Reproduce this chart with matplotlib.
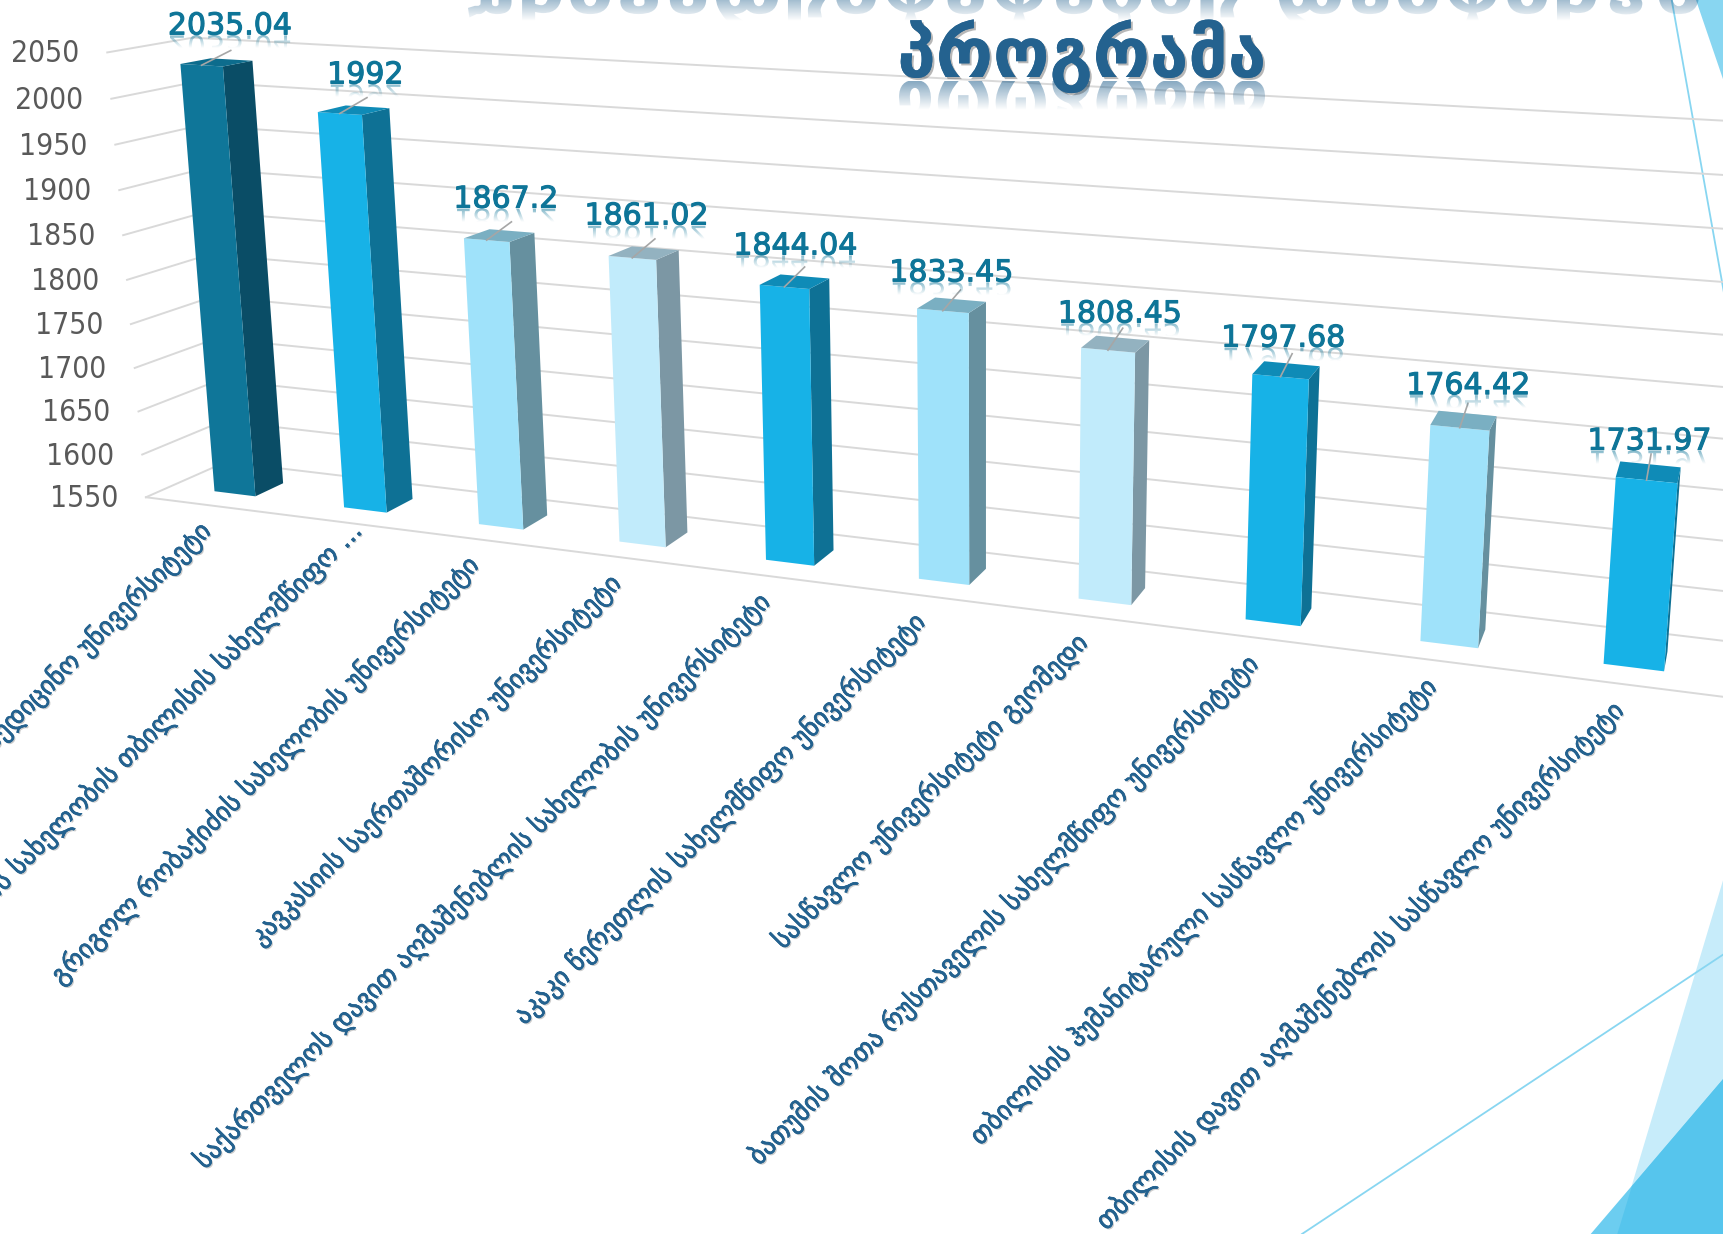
import numpy as np
import matplotlib
matplotlib.use('Agg')
import matplotlib.pyplot as plt
import matplotlib.patheffects as pe
from matplotlib.font_manager import FontProperties
from matplotlib.patches import PathPatch, Polygon
from matplotlib.textpath import TextPath
from matplotlib.transforms import Affine2D
from mpl_toolkits.mplot3d.art3d import Poly3DCollection

plt.rcParams['font.family'] = ['DejaVu Sans']

W, H = 1724, 1234

universities = [
    'თბილისის სახელმწიფო სამედიცინო უნივერსიტეტი',
    'ივანე ჯავახიშვილის სახელობის თბილისის სახელმწიფო ...',
    'გრიგოლ რობაქიძის სახელობის უნივერსიტეტი',
    'კავკასიის საერთაშორისო უნივერსიტეტი',
    'საქართველოს დავით აღმაშენებლის სახელობის უნივერსიტეტი',
    'აკაკი წერეთლის სახელმწიფო უნივერსიტეტი',
    'სასწავლო უნივერსიტეტი გეომედი',
    'ბათუმის შოთა რუსთაველის სახელმწიფო უნივერსიტეტი',
    'თბილისის ჰუმანიტარული სასწავლო უნივერსიტეტი',
    'თბილისის დავით აღმაშენებლის სასწავლო უნივერსიტეტი',
]
scores = [2035.04, 1992, 1867.2, 1861.02, 1844.04, 1833.45, 1808.45, 1797.68, 1764.42, 1731.97]
score_labels = ['2035.04', '1992', '1867.2', '1861.02', '1844.04', '1833.45', '1808.45', '1797.68', '1764.42', '1731.97']
bar_shades = ['dark', 'bright', 'light', 'pale', 'bright', 'light', 'pale', 'bright', 'light', 'bright']
y_ticks = [1550, 1600, 1650, 1700, 1750, 1800, 1850, 1900, 1950, 2000, 2050]

# small hand placed shifts of the value labels, in pixels
label_dx = [0, -1, -5, -8, -9, -9, -3, -9, 0, -2]
label_dy = [-7, -5, -5, -5, -3, 1, 4, 3, 1, 6]

# front, right side, top
shades = {
    'dark': ('#0f7699', '#0a4d66', '#0d6c8d'),
    'bright': ('#17b2e7', '#0e7195', '#0f8bb7'),
    'light': ('#9fe2fa', '#66909f', '#7aafc2'),
    'pale': ('#c1ebfb', '#7c97a4', '#93b2c0'),
}

half_w = 0.16
y_front, y_back = 0.31, 0.67

# points of the chart box and bars as seen in the picture, used to fit the camera
calib = [
    ((0, 0, 1550), (147.3, 496.7)), ((0, 1, 1550), (228.6, 461)),
    ((10, 0, 1550), (1728, 695.5)), ((10, 1, 1550), (1733, 643)),
    ((0, 0, 2050), (108.3, 52.5)), ((0, 1, 2050), (193, 36.5)),
    ((10, 1, 2050), (1774, 122.7)), ((0, 0, 1800), (128.2, 279.6)),
    ((10, 1, 1800), (1752, 390.5)),
    ((0.5 - half_w, y_front, 1550), (213.3, 491.7)), ((0.5 + half_w, y_front, 1550), (254, 496.7)),
    ((0.5 - half_w, y_front, 2035.04), (179.9, 64.3)), ((0.5 + half_w, y_front, 2035.04), (222, 65.4)),
    ((1.5 - half_w, y_front, 1550), (343.3, 508.3)), ((1.5 + half_w, y_front, 1550), (386, 513.3)),
    ((1.5 - half_w, y_front, 1992), (317.6, 112.5)), ((1.5 + half_w, y_front, 1992), (361.7, 116)),
    ((8.5 - half_w, y_front, 1550), (1421, 640.7)), ((8.5 + half_w, y_front, 1550), (1477.7, 647.7)),
    ((8.5 - half_w, y_front, 1764.42), (1431.3, 426)), ((8.5 + half_w, y_front, 1764.42), (1489, 431)),
    ((9.5 - half_w, y_front, 1550), (1604, 663.3)), ((9.5 + half_w, y_front, 1550), (1663.3, 670.3)),
    ((9.5 - half_w, y_front, 1731.97), (1616.7, 477.7)), ((9.5 + half_w, y_front, 1731.97), (1676.7, 483.7)),
    ((9.5 + half_w, y_back, 1550), (1668.3, 651.7)), ((0.5 + half_w, y_back, 1550), (281.7, 483.3)),
]


def fit_camera(points):
    rows = []
    for (x, y, z), (u, v) in points:
        X = [x / 10, y, (z - 1550) / 500, 1]
        u, v = u / 1000, v / 1000
        rows.append(X + [0, 0, 0, 0] + [-u * c for c in X])
        rows.append([0, 0, 0, 0] + X + [-v * c for c in X])
    p = np.linalg.svd(np.array(rows))[2][-1].reshape(3, 4)
    norm = np.array([[0.1, 0, 0, 0], [0, 1, 0, 0], [0, 0, 1 / 500, -3.1], [0, 0, 0, 1]])
    cam = np.diag([1000, 1000, 1]) @ p @ norm
    if cam[2] @ [0, 0, 1550, 1] < 0:
        cam = -cam
    return cam


camera = fit_camera(calib)


def to_px(x, y, z):
    u, v, w = camera @ [x, y, z, 1]
    return u / w, v / w


fig = plt.figure(figsize=(W / 100, H / 100), dpi=100, facecolor='white')

# slide decoration behind the chart
bg = fig.add_axes([0, 0, 1, 1], zorder=0)
bg.set_xlim(0, W)
bg.set_ylim(H, 0)
bg.axis('off')
bg.add_patch(Polygon([(1696, 0), (1724, 82), (1724, 0)], color='#88d6f1', lw=0))
bg.plot([1671.7, 1724], [0, 293], color='#88d6f1', lw=1.3)
bg.plot([1302, 1724], [1234, 954], color='#88d6f1', lw=1.3)
bg.add_patch(Polygon([(1724, 877), (1617.3, 1234), (1724, 1234)], color='#c7ecfa', lw=0))
bg.add_patch(Polygon([(1724, 1078), (1590.7, 1234), (1724, 1234)], color='#6ccdf0', lw=0))
bg.add_patch(Polygon([(1724, 1078), (1632, 1186), (1617.3, 1234), (1724, 1234)], color='#56c5ed', lw=0))

# the 3D axes are square, so make them as wide as the figure
ax = fig.add_axes([0, (1 - W / H) / 2, 1, W / H], projection='3d', zorder=1, computed_zorder=False)
ax.set_axis_off()
ax.set_facecolor('none')


def get_proj():
    ax.apply_aspect()
    inv = ax.transData.inverted()
    vx0, vy0 = inv.transform((0, H))
    vx1, vy1 = inv.transform((W, 0))
    a, b = (vx1 - vx0) / W, vx0
    c, d = (vy1 - vy0) / H, vy0
    return np.array([a * camera[0] + b * camera[2],
                     c * camera[1] + d * camera[2],
                     [0, 0, 0, -1],
                     camera[2]])


ax.get_proj = get_proj

grid = dict(color='#d9d9d9', lw=1.4, zorder=1)
for t in y_ticks:
    ax.plot([0, 0], [0, 1], [t, t], **grid)
    ax.plot([0, 10], [1, 1], [t, t], **grid)
ax.plot([0, 10], [0, 0], [y_ticks[0]] * 2, **grid)

base = y_ticks[0]
for i, (v, shade) in enumerate(zip(scores, bar_shades)):
    x0, x1 = i + 0.5 - half_w, i + 0.5 + half_w
    front = [(x0, y_front, base), (x1, y_front, base), (x1, y_front, v), (x0, y_front, v)]
    side = [(x1, y_front, base), (x1, y_back, base), (x1, y_back, v), (x1, y_front, v)]
    top = [(x0, y_front, v), (x1, y_front, v), (x1, y_back, v), (x0, y_back, v)]
    faces = Poly3DCollection([front, side, top], facecolors=shades[shade], edgecolors='none', zorder=2)
    ax.add_collection3d(faces, autolim=False)
    ax.plot([i + 0.5, i + 0.5], [y_front, y_back], [v, v + 10], color='#a6a6a6', lw=1.2, zorder=3)

# all text goes on a flat layer in picture pixels
top_ax = fig.add_axes([0, 0, 1, 1], zorder=2)
top_ax.set_xlim(0, W)
top_ax.set_ylim(H, 0)
top_ax.axis('off')
top_ax.set_autoscale_on(False)


def reflection(s, prop, size, color, y_base, y_fade, alpha, x_mid=None, x_span=None):
    # mirrored text with a fade-out, y grows downwards here so the path is already flipped
    path = TextPath((0, 0), s, size=size, prop=prop)
    box = path.get_extents()
    if x_span is not None:
        sx = (x_span[1] - x_span[0]) / box.width
        tr = Affine2D().translate(-box.x0, 0).scale(sx, 1).translate(x_span[0], y_base)
    else:
        tr = Affine2D().translate(-(box.x0 + box.x1) / 2, 0).translate(x_mid, y_base)
    path = path.transformed(tr)
    box = path.get_extents()
    fade = np.zeros((64, 1, 4))
    fade[..., :3] = matplotlib.colors.to_rgb(color)
    y_top = max(y_base, 0)
    fade[..., 3] = np.clip((y_fade - np.linspace(y_top, y_fade, 64)) / max(y_fade - y_top, 1), 0, 1)[:, None] * alpha
    im = top_ax.imshow(fade, extent=(box.x0, box.x1, y_fade, y_top), aspect='auto', origin='upper', zorder=4)
    im.set_clip_path(PathPatch(path, transform=top_ax.transData))


tick_font = dict(fontfamily='DejaVu Sans', fontstretch='condensed', fontsize=21.5, color='#595959')
for t in y_ticks:
    px, py = to_px(0, 0, t)
    top_ax.text(px - 28, py + 1.5, str(t), ha='right', va='center', **tick_font)

label_color = '#0e7598'
label_prop = FontProperties(family='DejaVu Sans', size=21.6)
for i, (v, s) in enumerate(zip(scores, score_labels)):
    px, py = to_px(i + 0.5, y_back, v + 20)
    px, py = px + label_dx[i], py + label_dy[i]
    top_ax.text(px, py, s, ha='center', va='baseline', fontproperties=label_prop, color=label_color,
                path_effects=[pe.withStroke(linewidth=0.8, foreground=label_color)], zorder=5)
    reflection(s, label_prop, 30, label_color, py + 1, py + 14, 0.5, x_mid=px)

name_color = '#24628f'
for i, name in enumerate(universities):
    px, py = to_px(i + 0.5, 0, base)
    px, py = px - 4 - 0.8 * i, py + 22
    if name.endswith('...'):
        px, py = px + 20, py - 17
    top_ax.text(px, py, name, rotation=45, rotation_mode='anchor', ha='right', va='center',
                fontsize=18.8, color=name_color, clip_on=True,
                path_effects=[pe.withSimplePatchShadow(offset=(1, -1), shadow_rgbFace='#555555', alpha=0.3),
                              pe.withStroke(linewidth=0.5, foreground=name_color)])

title_prop = FontProperties(family='DejaVu Sans', weight='bold', size=50)
top_ax.text(1082, 77, 'პროგრამა', ha='center', va='baseline', fontproperties=title_prop, color=name_color,
            path_effects=[pe.withSimplePatchShadow(offset=(1.5, -1.5), shadow_rgbFace='#333333', alpha=0.35), pe.Normal()], zorder=5)
reflection('პროგრამა', title_prop, 72, name_color, 81, 110, 0.55, x_span=(899, 1265))
# title above this one is off the slide, only its reflection shows
reflection('უნივერსიტეტების რეიტინგი', title_prop, 72, name_color, -26, 21, 0.42, x_span=(468, 1699))

fig.savefig('out.png', dpi=100)
